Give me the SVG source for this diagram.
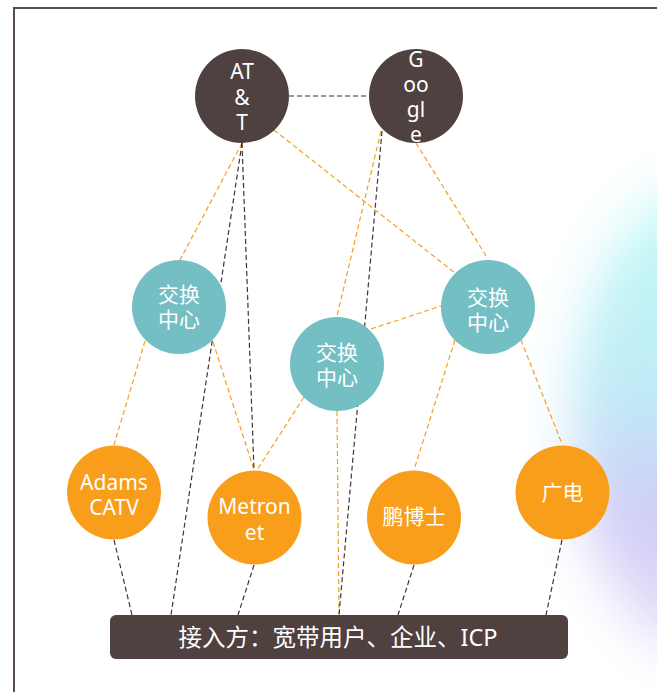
<svg xmlns="http://www.w3.org/2000/svg" width="657" height="692" viewBox="0 0 657 692">
<defs>
<linearGradient id="glowGrad" x1="0" y1="0" x2="0" y2="1">
<stop offset="0" stop-color="#c4fbf6"/>
<stop offset="0.45" stop-color="#bfeaf6"/>
<stop offset="0.7" stop-color="#d2cdf8"/>
<stop offset="1" stop-color="#e4e0f8"/>
</linearGradient>
<filter id="blur" x="-50%" y="-50%" width="200%" height="200%">
<feGaussianBlur stdDeviation="26"/>
</filter>
<style>
.line-o{stroke:#f5a01e;stroke-width:1.2;stroke-dasharray:5 3;fill:none}
.line-d{stroke:#3e3433;stroke-width:1.2;stroke-dasharray:5 3;fill:none}
.top{fill:#4e4140}
.sw{fill:#73bfc4}
.acc{fill:#f89e1b}
.t{fill:#ffffff;font-family:"Noto Sans","Noto Sans CJK SC",sans-serif;font-size:21px;text-anchor:middle}
.bt{fill:#ffffff;font-family:"Noto Sans","Noto Sans CJK SC",sans-serif;font-size:23.5px;text-anchor:middle}
</style>
</defs>
<rect x="0" y="0" width="657" height="692" fill="#ffffff"/>
<ellipse cx="705" cy="420" rx="132" ry="235" fill="url(#glowGrad)" filter="url(#blur)"/>
<path d="M14 692 V8 H657" fill="none" stroke="#5a4d4b" stroke-width="2"/>

<g id="connectors">
<line class="line-d" x1="289" y1="96" x2="369" y2="96"/>
<line class="line-o" x1="242" y1="143" x2="180" y2="260"/>
<line class="line-o" x1="274" y1="130" x2="455" y2="273"/>
<line class="line-o" x1="416" y1="143" x2="488" y2="259"/>
<line class="line-o" x1="381" y1="131" x2="337" y2="316"/>
<line class="line-o" x1="145" y1="341" x2="114" y2="445"/>
<line class="line-o" x1="213" y1="342" x2="254" y2="470"/>
<line class="line-o" x1="304" y1="397" x2="257" y2="470"/>
<line class="line-o" x1="337" y1="411" x2="339" y2="615"/>
<line class="line-o" x1="371" y1="329" x2="441" y2="306"/>
<line class="line-o" x1="455" y1="340" x2="414" y2="470"/>
<line class="line-o" x1="521" y1="340" x2="562" y2="444"/>
<line class="line-d" x1="242" y1="143" x2="171" y2="615"/>
<line class="line-d" x1="242" y1="143" x2="254" y2="470"/>
<line class="line-d" x1="382" y1="131" x2="339" y2="615"/>
<line class="line-d" x1="114" y1="540" x2="132" y2="615"/>
<line class="line-d" x1="254" y1="565" x2="238" y2="615"/>
<line class="line-d" x1="414" y1="565" x2="398" y2="615"/>
<line class="line-d" x1="562" y1="540" x2="546" y2="615"/>
</g>

<g id="att">
<circle class="top" cx="242" cy="96" r="47"/>
<text class="t" x="242" y="79">AT</text>
<text class="t" x="242" y="104.5">&amp;</text>
<text class="t" x="242" y="130">T</text>
</g>
<g id="google">
<circle class="top" cx="416" cy="96" r="47"/>
<text class="t" x="416" y="66.5">G</text>
<text class="t" x="416" y="91.5">oo</text>
<text class="t" x="416" y="116.5">gl</text>
<text class="t" x="416" y="141.5">e</text>
</g>
<g id="switch-left">
<circle class="sw" cx="179" cy="307" r="47"/>
<text class="t" x="179" y="301.5">交换</text>
<text class="t" x="179" y="326.5">中心</text>
</g>
<g id="switch-right">
<circle class="sw" cx="488" cy="307" r="47"/>
<text class="t" x="488" y="304.5">交换</text>
<text class="t" x="488" y="329.5">中心</text>
</g>
<g id="switch-mid">
<circle class="sw" cx="337" cy="364" r="47"/>
<text class="t" x="337" y="359.5">交换</text>
<text class="t" x="337" y="384.5">中心</text>
</g>
<g id="adams">
<circle class="acc" cx="114" cy="492.5" r="47"/>
<text class="t" x="114" y="490">Adams</text>
<text class="t" x="114" y="515">CATV</text>
</g>
<g id="metronet">
<circle class="acc" cx="254.5" cy="517.5" r="47"/>
<text class="t" x="254.5" y="514">Metron</text>
<text class="t" x="254.5" y="540">et</text>
</g>
<g id="pbs">
<circle class="acc" cx="414" cy="517.5" r="47"/>
<text class="t" x="414" y="523.5">鹏博士</text>
</g>
<g id="gd">
<circle class="acc" cx="562.5" cy="492.5" r="47"/>
<text class="t" x="562.5" y="499.5">广电</text>
</g>
<g id="access">
<rect class="top" x="110" y="615" width="458" height="44" rx="6"/>
<text class="bt" x="338" y="645.5">接入方：宽带用户、企业、ICP</text>
</g>
</svg>
